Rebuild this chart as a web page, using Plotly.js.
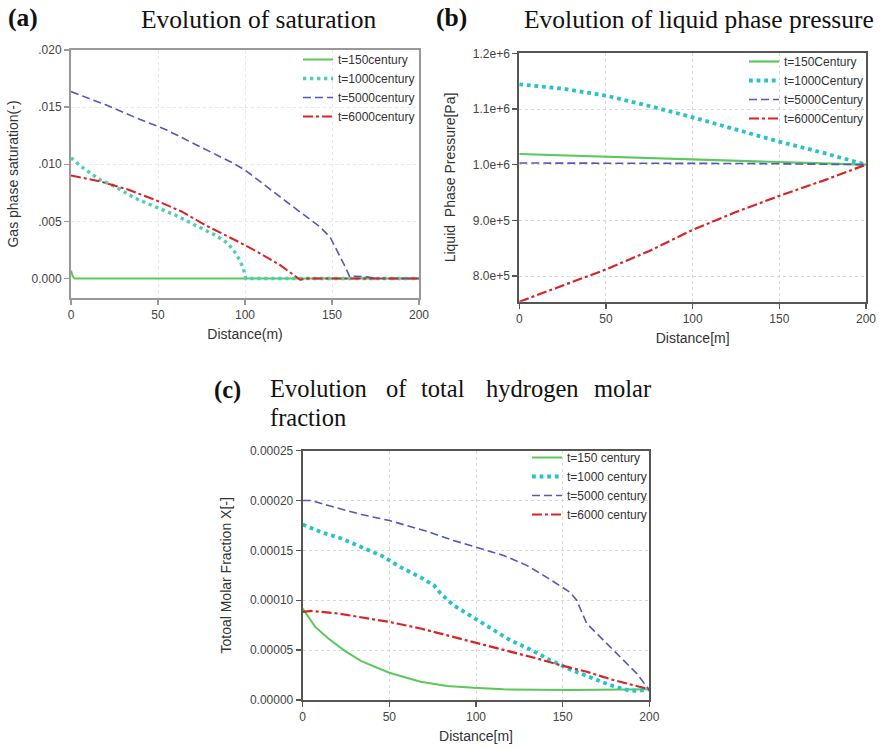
<!DOCTYPE html>
<html>
<head>
<meta charset="utf-8">
<script src="https://cdn.plot.ly/plotly-3.0.1.min.js"></script>
<style>html,body{margin:0;padding:0;background:#fff;}#chart{width:880px;height:749px;}</style>
</head>
<body>
<div id="chart"></div>
<script>
// ---------- Panel (a): gas phase saturation ----------
const seriesNamesA = ['t=150century', 't=1000century', 't=5000century', 't=6000century'];
const distA150 = [0, 0.5, 1, 2, 50, 100, 150, 200];
const satT150 = [0.0007, 0.0005, 0.0002, 0, 0, 0, 0, 0];
const distA1000 = [0, 5, 9.6, 16.3, 25, 36.5, 48, 59.6, 71, 82.7, 90, 94, 97, 99, 100.5, 120, 150, 200];
const satT1000 = [0.01058, 0.0099, 0.0094, 0.00867, 0.00808, 0.00705, 0.00631, 0.00558, 0.0047, 0.00382, 0.00309, 0.00235, 0.00161, 0.00088, 0, 0, 0, 0];
const distA5000 = [0, 20, 35.8, 55, 74, 93.3, 100, 108.7, 120.2, 131.7, 143.3, 149, 153.9, 157.7, 160.2, 161.5, 163, 170, 176, 200];
const satT5000 = [0.01636, 0.0152, 0.01417, 0.0130, 0.01155, 0.01009, 0.0095, 0.00846, 0.00714, 0.00582, 0.0045, 0.0036, 0.0022, 0.001, 0.00014, 0.0002, 0.0002, 0.00015, 0, 0];
const distA6000 = [0, 16.3, 32.7, 48, 63.5, 78.8, 97.1, 108.7, 120.2, 127.9, 131.7, 135.6, 200];
const satT6000 = [0.00902, 0.00852, 0.00779, 0.0069, 0.00587, 0.00455, 0.00315, 0.0022, 0.00117, 0.0003, -0.0001, 0, 0];
const satTickVals = [0, 0.005, 0.010, 0.015, 0.020];
const satTickText = ['0.000', '.005', '.010', '.015', '.020'];

// ---------- Panel (b): liquid phase pressure ----------
const seriesNamesB = ['t=150Century', 't=1000Century', 't=5000Century', 't=6000Century'];
const distB = [0, 25, 50, 75, 100, 125, 150, 175, 190, 200];
const pT150 = [1.0192e6, 1.0168e6, 1.0145e6, 1.0122e6, 1.0100e6, 1.0074e6, 1.0047e6, 1.0018e6, 1.0005e6, 1.0e6];
const pT1000 = [1.1443e6, 1.1365e6, 1.124e6, 1.1054e6, 1.085e6, 1.0635e6, 1.0413e6, 1.0216e6, 1.0096e6, 1.0e6];
const pT5000 = [1.0030e6, 1.0030e6, 1.0029e6, 1.0028e6, 1.0026e6, 1.0022e6, 1.0016e6, 1.0008e6, 1.0004e6, 1.0e6];
const pT6000 = [7.54e5, 7.83e5, 8.12e5, 8.45e5, 8.83e5, 9.15e5, 9.44e5, 9.71e5, 9.88e5, 1.0e6];
const presTickVals = [8.0e5, 9.0e5, 1.0e6, 1.1e6, 1.2e6];
const presTickText = ['8.0e+5', '9.0e+5', '1.0e+6', '1.1e+6', '1.2e+6'];

// ---------- Panel (c): total hydrogen molar fraction ----------
const seriesNamesC = ['t=150 century', 't=1000 century', 't=5000 century', 't=6000 century'];
const distC150 = [0, 7.2, 14.8, 24.3, 33.8, 50, 68, 83.3, 98.5, 115.9, 154.3, 200];
const xT150 = [9.17e-5, 7.33e-5, 6.17e-5, 4.93e-5, 3.9e-5, 2.73e-5, 1.83e-5, 1.4e-5, 1.23e-5, 1.07e-5, 1.0e-5, 1.07e-5];
const distC1000 = [0, 11, 22.4, 33.8, 45.2, 56.7, 68, 75.7, 79.5, 87, 97, 108.2, 119.7, 131.3, 142.8, 154.3, 165.8, 177.3, 188.9, 194.6, 200];
const xT1000 = [1.76e-4, 1.68e-4, 1.62e-4, 1.54e-4, 1.45e-4, 1.33e-4, 1.23e-4, 1.15e-4, 1.07e-4, 9.5e-5, 8.4e-5, 7.17e-5, 6.0e-5, 5.07e-5, 4.0e-5, 3.07e-5, 2.33e-5, 1.5e-5, 9.3e-6, 9.3e-6, 1.07e-5];
const distC5000 = [0, 5, 14.8, 33.8, 50, 71.9, 87, 98.5, 115.9, 129.3, 140.8, 154.3, 158.1, 163.9, 169.6, 181.2, 192.7, 200];
const xT5000 = [2.0e-4, 2.0e-4, 1.95e-4, 1.86e-4, 1.8e-4, 1.69e-4, 1.6e-4, 1.54e-4, 1.45e-4, 1.35e-4, 1.23e-4, 1.08e-4, 1.0e-4, 7.67e-5, 6.67e-5, 4.67e-5, 2.67e-5, 1.0e-5];
const distC6000 = [0, 5.3, 20.5, 37.6, 50, 68, 83.3, 98.5, 115.9, 135.1, 148.5, 163.9, 179.3, 200];
const xT6000 = [8.83e-5, 8.93e-5, 8.67e-5, 8.17e-5, 7.83e-5, 7.17e-5, 6.5e-5, 5.83e-5, 5.0e-5, 4.17e-5, 3.5e-5, 2.83e-5, 2.0e-5, 1.07e-5];
const molarTickVals = [0, 0.00005, 0.0001, 0.00015, 0.0002, 0.00025];

// ---------- styles ----------
const GREEN = '#5cc85c', CYAN_A = '#4cd0b4', CYAN = '#26c4c8', BLUE = '#5656bc', RED = '#d82424';
const sansFont = 'Liberation Sans, Arial, sans-serif';
const serifFont = 'Liberation Serif, Times New Roman, serif';

function tr(x, y, name, color, width, dash, xa, ya, leg) {
  return {x: x, y: y, name: name, type: 'scatter', mode: 'lines',
    line: {color: color, width: width, dash: dash},
    xaxis: xa, yaxis: ya, legend: leg, hoverinfo: 'skip'};
}
const DOT_A = '3.3px,3.7px', DOT = '3.8px,3.8px', DASH = '8px,4px', DASHDOT = '10px,3px,3px,3px';

const data = [
  tr(distA150, satT150, seriesNamesA[0], GREEN, 2, 'solid', 'x', 'y', 'legend'),
  tr(distA1000, satT1000, seriesNamesA[1], CYAN_A, 3.4, DOT_A, 'x', 'y', 'legend'),
  tr(distA5000, satT5000, seriesNamesA[2], BLUE, 1.6, DASH, 'x', 'y', 'legend'),
  tr(distA6000, satT6000, seriesNamesA[3], RED, 2, DASHDOT, 'x', 'y', 'legend'),
  tr(distB, pT150, seriesNamesB[0], GREEN, 2.2, 'solid', 'x2', 'y2', 'legend2'),
  tr(distB, pT1000, seriesNamesB[1], CYAN, 3.8, DOT, 'x2', 'y2', 'legend2'),
  tr(distB, pT5000, seriesNamesB[2], BLUE, 1.6, DASH, 'x2', 'y2', 'legend2'),
  tr(distB, pT6000, seriesNamesB[3], RED, 2.2, DASHDOT, 'x2', 'y2', 'legend2'),
  tr(distC150, xT150, seriesNamesC[0], GREEN, 2, 'solid', 'x3', 'y3', 'legend3'),
  tr(distC1000, xT1000, seriesNamesC[1], CYAN, 3.8, DOT, 'x3', 'y3', 'legend3'),
  tr(distC5000, xT5000, seriesNamesC[2], BLUE, 1.6, DASH, 'x3', 'y3', 'legend3'),
  tr(distC6000, xT6000, seriesNamesC[3], RED, 2.2, DASHDOT, 'x3', 'y3', 'legend3')
];

function xAxis(domain, anchor, title, lineColor, gridColor) {
  return {domain: domain, anchor: anchor, range: [0, 200], tick0: 0, dtick: 50,
    ticks: 'outside', ticklen: 5, tickcolor: lineColor, tickwidth: 1.5,
    showline: true, mirror: true, linecolor: lineColor, linewidth: 2,
    showgrid: true, gridcolor: gridColor, griddash: 'dot', gridwidth: 1, zeroline: false,
    tickfont: {family: sansFont, size: 12, color: '#444'},
    title: {text: title, standoff: 8, font: {family: sansFont, size: 14, color: '#333'}}};
}
function yAxis(domain, anchor, range, tv, tt, title, lineColor, gridColor, standoff) {
  const a = {domain: domain, anchor: anchor, range: range, tickvals: tv,
    ticks: 'outside', ticklen: 5, tickcolor: lineColor, tickwidth: 1.5,
    showline: true, mirror: true, linecolor: lineColor, linewidth: 2,
    showgrid: true, gridcolor: gridColor, griddash: 'dot', gridwidth: 1, zeroline: false,
    tickfont: {family: sansFont, size: 12, color: '#444'},
    title: {text: title, standoff: standoff, font: {family: sansFont, size: 14, color: '#333'}}};
  if (tt) a.ticktext = tt; else a.tickformat = '.5f';
  return a;
}

const legendBase = {bgcolor: 'rgba(0,0,0,0)', borderwidth: 0, xanchor: 'left', yanchor: 'top',
  font: {family: sansFont, size: 12, color: '#333'}, tracegroupgap: 0, itemclick: false};

function ann(text, x, y, xanchor, bold, size) {
  return {text: bold ? '<b>' + text + '</b>' : text, x: x / 880, y: 1 - y / 749, xref: 'paper', yref: 'paper',
    xanchor: xanchor || 'left', yanchor: 'middle', showarrow: false,
    font: {family: serifFont, size: size || 25.5, color: '#111'}};
}

const layout = {
  width: 880, height: 749, margin: {l: 0, r: 0, t: 0, b: 0},
  paper_bgcolor: '#fff', plot_bgcolor: '#fff', showlegend: true,
  xaxis: xAxis([71 / 880, 419 / 880], 'y', 'Distance(m)', '#999', '#e8e8e8'),
  yaxis: yAxis([1 - 298 / 749, 1 - 50 / 749], 'x', [-0.0017, 0.020], satTickVals, satTickText, 'Gas phase saturation(-)', '#999', '#e8e8e8', 10),
  xaxis2: xAxis([519.3 / 880, 866 / 880], 'y2', 'Distance[m]', '#555', '#d8d8d8'),
  yaxis2: yAxis([1 - 301.7 / 749, 1 - 53.3 / 749], 'x2', [7.54e5, 1.2e6], presTickVals, presTickText, 'Liquid  Phase Pressure[Pa]', '#555', '#d8d8d8', 14),
  xaxis3: xAxis([302.7 / 880, 649.3 / 880], 'y3', 'Distance[m]', '#555', '#d8d8d8'),
  yaxis3: yAxis([1 - 700 / 749, 1 - 450.7 / 749], 'x3', [0, 0.00025], molarTickVals, null, 'Totoal Molar Fraction X[-]', '#555', '#d8d8d8', 15),
  legend: Object.assign({}, legendBase, {x: 298 / 880, y: 1 - 45 / 749}),
  legend2: Object.assign({}, legendBase, {x: 744 / 880, y: 1 - 47 / 749}),
  legend3: Object.assign({}, legendBase, {x: 527 / 880, y: 1 - 443 / 749}),
  annotations: [
    ann('(a)', 6, 18, 'left', true),
    ann('Evolution of saturation', 258, 20, 'center', false),
    ann('(b)', 434, 18, 'left', true),
    ann('Evolution of liquid phase pressure', 699, 20, 'center', false),
    ann('(c)', 212, 390, 'left', true, 24.5),
    ann('Evolution', 268, 388, 'left', false, 24.5),
    ann('of', 384, 388, 'left', false, 24.5),
    ann('total', 419, 388, 'left', false, 24.5),
    ann('hydrogen', 484, 388, 'left', false, 24.5),
    ann('molar', 653, 388, 'right', false, 24.5),
    ann('fraction', 268, 417, 'left', false, 24.5)
  ]
};

Plotly.newPlot('chart', data, layout, {staticPlot: true, displayModeBar: false});
</script>
</body>
</html>
